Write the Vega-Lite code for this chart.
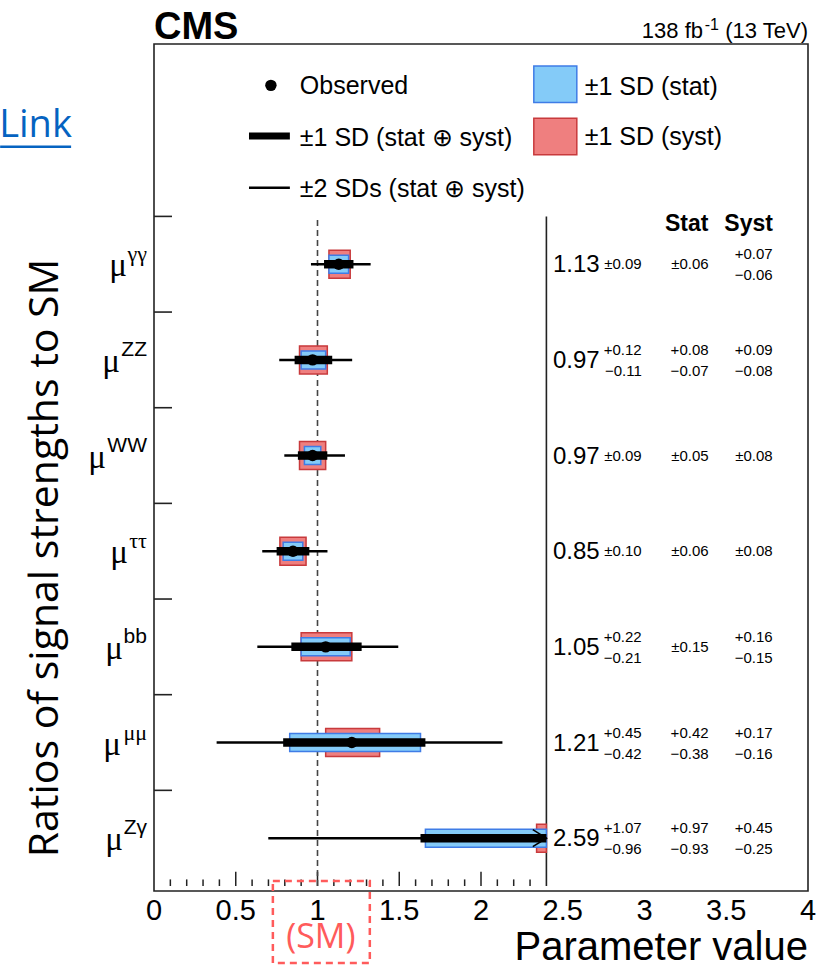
{
  "$schema": "https://vega.github.io/schema/vega-lite/v6.json",
  "width": 654,
  "height": 847,
  "autosize": {"type": "none"},
  "padding": {"left": 154, "top": 44, "right": 19, "bottom": 80},
  "background": "white",
  "config": {"view": {"stroke": "#222", "strokeWidth": 1.6}, "text": {"font": "Liberation Sans", "color": "#000"}},
  "datasets": {
    "ch": [
      {"ch": "gg", "c": 6.5, "sup": "γγ", "v": 1.13, "sd2_lo": 0.96, "sd2_hi": 1.325, "tot_lo": 1.04, "tot_hi": 1.22, "stat_lo": 1.07, "stat_hi": 1.19, "syst_lo": 1.07, "syst_hi": 1.2, "val": "1.13", "tot": "±0.09", "tot_up": "", "tot_dn": "", "stat": "±0.06", "stat_up": "", "stat_dn": "", "syst": "", "syst_up": "+0.07", "syst_dn": "−0.06"},
      {"ch": "zz", "c": 5.5, "sup": "ZZ", "v": 0.97, "sd2_lo": 0.766, "sd2_hi": 1.212, "tot_lo": 0.86, "tot_hi": 1.09, "stat_lo": 0.9, "stat_hi": 1.05, "syst_lo": 0.89, "syst_hi": 1.06, "val": "0.97", "tot": "", "tot_up": "+0.12", "tot_dn": "−0.11", "stat": "", "stat_up": "+0.08", "stat_dn": "−0.07", "syst": "", "syst_up": "+0.09", "syst_dn": "−0.08"},
      {"ch": "ww", "c": 4.5, "sup": "WW", "v": 0.97, "sd2_lo": 0.797, "sd2_hi": 1.168, "tot_lo": 0.88, "tot_hi": 1.06, "stat_lo": 0.92, "stat_hi": 1.02, "syst_lo": 0.89, "syst_hi": 1.05, "val": "0.97", "tot": "±0.09", "tot_up": "", "tot_dn": "", "stat": "±0.05", "stat_up": "", "stat_dn": "", "syst": "±0.08", "syst_up": "", "syst_dn": ""},
      {"ch": "tt", "c": 3.5, "sup": "ττ", "v": 0.85, "sd2_lo": 0.662, "sd2_hi": 1.061, "tot_lo": 0.75, "tot_hi": 0.95, "stat_lo": 0.79, "stat_hi": 0.91, "syst_lo": 0.77, "syst_hi": 0.93, "val": "0.85", "tot": "±0.10", "tot_up": "", "tot_dn": "", "stat": "±0.06", "stat_up": "", "stat_dn": "", "syst": "±0.08", "syst_up": "", "syst_dn": ""},
      {"ch": "bb", "c": 2.5, "sup": "bb", "v": 1.05, "sd2_lo": 0.632, "sd2_hi": 1.494, "tot_lo": 0.84, "tot_hi": 1.27, "stat_lo": 0.9, "stat_hi": 1.2, "syst_lo": 0.9, "syst_hi": 1.21, "val": "1.05", "tot": "", "tot_up": "+0.22", "tot_dn": "−0.21", "stat": "±0.15", "stat_up": "", "stat_dn": "", "syst": "", "syst_up": "+0.16", "syst_dn": "−0.15"},
      {"ch": "mm", "c": 1.5, "sup": "μμ", "v": 1.21, "sd2_lo": 0.383, "sd2_hi": 2.131, "tot_lo": 0.79, "tot_hi": 1.66, "stat_lo": 0.83, "stat_hi": 1.63, "syst_lo": 1.05, "syst_hi": 1.38, "val": "1.21", "tot": "", "tot_up": "+0.45", "tot_dn": "−0.42", "stat": "", "stat_up": "+0.42", "stat_dn": "−0.38", "syst": "", "syst_up": "+0.17", "syst_dn": "−0.16"},
      {"ch": "zg", "c": 0.5, "sup": "Zγ", "v": 2.59, "sd2_lo": 0.699, "sd2_hi": 2.4, "tot_lo": 1.63, "tot_hi": 2.4, "stat_lo": 1.66, "stat_hi": 2.4, "syst_lo": 2.34, "syst_hi": 2.4, "val": "2.59", "tot": "", "tot_up": "+1.07", "tot_dn": "−0.96", "stat": "", "stat_up": "+0.97", "stat_dn": "−0.93", "syst": "", "syst_up": "+0.45", "syst_dn": "−0.25"}
    ],
    "yt": [{"k": 1}, {"k": 2}, {"k": 3}, {"k": 4}, {"k": 5}, {"k": 6}, {"k": 7}],
    "major": [{"t": 0.5}, {"t": 1}, {"t": 1.5}, {"t": 2}],
    "minor": [{"t": 0.1}, {"t": 0.2}, {"t": 0.3}, {"t": 0.4}, {"t": 0.6}, {"t": 0.7}, {"t": 0.8}, {"t": 0.9}, {"t": 1.1}, {"t": 1.2}, {"t": 1.3}, {"t": 1.4}, {"t": 1.6}, {"t": 1.7}, {"t": 1.8}, {"t": 1.9}, {"t": 2.1}, {"t": 2.2}, {"t": 2.3}],
    "labels": [{"t": 0, "s": "0"}, {"t": 0.5, "s": "0.5"}, {"t": 1, "s": "1"}, {"t": 1.5, "s": "1.5"}, {"t": 2, "s": "2"}, {"t": 2.5, "s": "2.5"}, {"t": 3, "s": "3"}, {"t": 3.5, "s": "3.5"}, {"t": 4, "s": "4"}]
  },
  "layer": [
    {"data": {"name": "major"}, "mark": {"type": "rule", "color": "#222", "strokeWidth": 1.5},
     "encoding": {
       "x": {"field": "t", "type": "quantitative", "scale": {"domain": [0, 4], "nice": false, "zero": false}, "axis": null},
       "y": {"datum": 0, "type": "quantitative", "scale": {"domain": [0, 8.75], "nice": false, "zero": false}, "axis": null},
       "y2": {"datum": 0.148}}},
    {"data": {"name": "labels"}, "mark": {"type": "text", "align": "center", "baseline": "middle", "fontSize": 29, "dy": 25},
     "encoding": {"x": {"field": "t", "type": "quantitative", "axis": null}, "y": {"datum": 0, "type": "quantitative", "axis": null}, "text": {"field": "s"}}},
    {"data": {"values": [{}]}, "mark": {"type": "rule", "strokeDash": [6, 4], "color": "#444", "strokeWidth": 1.6},
     "encoding": {"x": {"datum": 1, "type": "quantitative", "axis": null}, "y": {"datum": 0, "type": "quantitative", "axis": null}, "y2": {"datum": 7}}},
    {"data": {"values": [{}]}, "mark": {"type": "rule", "color": "#222", "strokeWidth": 1.6},
     "encoding": {"x": {"datum": 2.4, "type": "quantitative", "axis": null}, "y": {"datum": 0, "type": "quantitative", "axis": null}, "y2": {"datum": 7}}},
    {"data": {"name": "yt"}, "mark": {"type": "rule", "color": "#222", "strokeWidth": 1.6},
     "encoding": {"x": {"datum": 0, "type": "quantitative", "axis": null}, "x2": {"datum": 0.11}, "y": {"field": "k", "type": "quantitative", "axis": null}}},
    {"data": {"name": "minor"}, "mark": {"type": "rule", "color": "#222", "strokeWidth": 1.5},
     "encoding": {"x": {"field": "t", "type": "quantitative", "axis": null}, "y": {"datum": 0, "type": "quantitative", "axis": null}, "y2": {"datum": 0.069}}},
    {"data": {"name": "ch"}, "mark": {"type": "bar", "orient": "horizontal", "size": 28, "fill": "#EF7F7F", "stroke": "#C83A3C", "strokeWidth": 1.5},
     "encoding": {"x": {"field": "syst_lo", "type": "quantitative", "axis": null}, "x2": {"field": "syst_hi"}, "y": {"field": "c", "type": "quantitative", "axis": null}}},
    {"data": {"name": "ch"}, "mark": {"type": "bar", "orient": "horizontal", "size": 18, "fill": "#84CBF8", "stroke": "#3F7CE6", "strokeWidth": 1.5},
     "encoding": {"x": {"field": "stat_lo", "type": "quantitative", "axis": null}, "x2": {"field": "stat_hi"}, "y": {"field": "c", "type": "quantitative", "axis": null}}},
    {"data": {"name": "ch"}, "mark": {"type": "rule", "color": "#000", "strokeWidth": 2.5},
     "encoding": {"x": {"field": "sd2_lo", "type": "quantitative", "axis": null}, "x2": {"field": "sd2_hi"}, "y": {"field": "c", "type": "quantitative", "axis": null}}},
    {"data": {"name": "ch"}, "mark": {"type": "rule", "color": "#000", "strokeWidth": 8.5, "strokeCap": "butt"},
     "encoding": {"x": {"field": "tot_lo", "type": "quantitative", "axis": null}, "x2": {"field": "tot_hi"}, "y": {"field": "c", "type": "quantitative", "axis": null}}},
    {"data": {"name": "ch"}, "transform": [{"filter": "datum.v > 2.4"}],
     "mark": {"type": "point", "shape": "M-1.6,-1L0,0L-1.6,1", "filled": false, "stroke": "#000", "strokeWidth": 1.6, "size": 289, "opacity": 1},
     "encoding": {"x": {"field": "tot_hi", "type": "quantitative", "axis": null}, "y": {"field": "c", "type": "quantitative", "axis": null}}},
    {"data": {"name": "ch"}, "transform": [{"filter": "datum.v <= 2.4"}],
     "mark": {"type": "point", "shape": "circle", "filled": true, "color": "#000", "size": 130, "opacity": 1},
     "encoding": {"x": {"field": "v", "type": "quantitative", "axis": null}, "y": {"field": "c", "type": "quantitative", "axis": null}}},

    {"data": {"name": "ch"}, "transform": [{"filter": "datum.ch == 'zz' || datum.ch == 'ww' || datum.ch == 'bb' || datum.ch == 'zg'"}],
     "mark": {"type": "text", "align": "right", "baseline": "middle", "fontSize": 21, "dy": -10},
     "encoding": {"x": {"datum": -0.043, "type": "quantitative", "axis": null}, "y": {"field": "c", "type": "quantitative", "axis": null}, "text": {"field": "sup"}}},
    {"data": {"name": "ch"}, "transform": [{"filter": "datum.ch == 'gg' || datum.ch == 'tt' || datum.ch == 'mm'"}],
     "mark": {"type": "text", "align": "right", "baseline": "middle", "font": "Liberation Serif", "fontSize": 22, "dy": -10},
     "encoding": {"x": {"datum": -0.043, "type": "quantitative", "axis": null}, "y": {"field": "c", "type": "quantitative", "axis": null}, "text": {"field": "sup"}}},
    {"data": {"name": "ch"}, "transform": [{"filter": "datum.ch == 'gg'"}], "mark": {"type": "text", "align": "right", "baseline": "middle", "font": "Liberation Serif", "fontSize": 33, "dy": 2, "dx": -20},
     "encoding": {"x": {"datum": -0.043, "type": "quantitative", "axis": null}, "y": {"field": "c", "type": "quantitative", "axis": null}, "text": {"value": "μ"}}},
    {"data": {"name": "ch"}, "transform": [{"filter": "datum.ch == 'zz'"}], "mark": {"type": "text", "align": "right", "baseline": "middle", "font": "Liberation Serif", "fontSize": 33, "dy": 2, "dx": -27},
     "encoding": {"x": {"datum": -0.043, "type": "quantitative", "axis": null}, "y": {"field": "c", "type": "quantitative", "axis": null}, "text": {"value": "μ"}}},
    {"data": {"name": "ch"}, "transform": [{"filter": "datum.ch == 'ww'"}], "mark": {"type": "text", "align": "right", "baseline": "middle", "font": "Liberation Serif", "fontSize": 33, "dy": 2, "dx": -41},
     "encoding": {"x": {"datum": -0.043, "type": "quantitative", "axis": null}, "y": {"field": "c", "type": "quantitative", "axis": null}, "text": {"value": "μ"}}},
    {"data": {"name": "ch"}, "transform": [{"filter": "datum.ch == 'tt'"}], "mark": {"type": "text", "align": "right", "baseline": "middle", "font": "Liberation Serif", "fontSize": 33, "dy": 2, "dx": -19},
     "encoding": {"x": {"datum": -0.043, "type": "quantitative", "axis": null}, "y": {"field": "c", "type": "quantitative", "axis": null}, "text": {"value": "μ"}}},
    {"data": {"name": "ch"}, "transform": [{"filter": "datum.ch == 'bb'"}], "mark": {"type": "text", "align": "right", "baseline": "middle", "font": "Liberation Serif", "fontSize": 33, "dy": 2, "dx": -24},
     "encoding": {"x": {"datum": -0.043, "type": "quantitative", "axis": null}, "y": {"field": "c", "type": "quantitative", "axis": null}, "text": {"value": "μ"}}},
    {"data": {"name": "ch"}, "transform": [{"filter": "datum.ch == 'mm'"}], "mark": {"type": "text", "align": "right", "baseline": "middle", "font": "Liberation Serif", "fontSize": 33, "dy": 2, "dx": -26},
     "encoding": {"x": {"datum": -0.043, "type": "quantitative", "axis": null}, "y": {"field": "c", "type": "quantitative", "axis": null}, "text": {"value": "μ"}}},
    {"data": {"name": "ch"}, "transform": [{"filter": "datum.ch == 'zg'"}], "mark": {"type": "text", "align": "right", "baseline": "middle", "font": "Liberation Serif", "fontSize": 33, "dy": 2, "dx": -24},
     "encoding": {"x": {"datum": -0.043, "type": "quantitative", "axis": null}, "y": {"field": "c", "type": "quantitative", "axis": null}, "text": {"value": "μ"}}},

    {"data": {"name": "ch"}, "mark": {"type": "text", "align": "right", "baseline": "middle", "fontSize": 24, "dy": 1},
     "encoding": {"x": {"datum": 2.726, "type": "quantitative", "axis": null}, "y": {"field": "c", "type": "quantitative", "axis": null}, "text": {"field": "val"}}},
    {"data": {"name": "ch"}, "mark": {"type": "text", "align": "right", "baseline": "middle", "fontSize": 15, "dy": 0},
     "encoding": {"x": {"datum": 2.983, "type": "quantitative", "axis": null}, "y": {"field": "c", "type": "quantitative", "axis": null}, "text": {"field": "tot"}}},
    {"data": {"name": "ch"}, "mark": {"type": "text", "align": "right", "baseline": "middle", "fontSize": 15, "dy": -10},
     "encoding": {"x": {"datum": 2.983, "type": "quantitative", "axis": null}, "y": {"field": "c", "type": "quantitative", "axis": null}, "text": {"field": "tot_up"}}},
    {"data": {"name": "ch"}, "mark": {"type": "text", "align": "right", "baseline": "middle", "fontSize": 15, "dy": 11},
     "encoding": {"x": {"datum": 2.983, "type": "quantitative", "axis": null}, "y": {"field": "c", "type": "quantitative", "axis": null}, "text": {"field": "tot_dn"}}},
    {"data": {"name": "ch"}, "mark": {"type": "text", "align": "right", "baseline": "middle", "fontSize": 15, "dy": 0},
     "encoding": {"x": {"datum": 3.392, "type": "quantitative", "axis": null}, "y": {"field": "c", "type": "quantitative", "axis": null}, "text": {"field": "stat"}}},
    {"data": {"name": "ch"}, "mark": {"type": "text", "align": "right", "baseline": "middle", "fontSize": 15, "dy": -10},
     "encoding": {"x": {"datum": 3.392, "type": "quantitative", "axis": null}, "y": {"field": "c", "type": "quantitative", "axis": null}, "text": {"field": "stat_up"}}},
    {"data": {"name": "ch"}, "mark": {"type": "text", "align": "right", "baseline": "middle", "fontSize": 15, "dy": 11},
     "encoding": {"x": {"datum": 3.392, "type": "quantitative", "axis": null}, "y": {"field": "c", "type": "quantitative", "axis": null}, "text": {"field": "stat_dn"}}},
    {"data": {"name": "ch"}, "mark": {"type": "text", "align": "right", "baseline": "middle", "fontSize": 15, "dy": 0},
     "encoding": {"x": {"datum": 3.784, "type": "quantitative", "axis": null}, "y": {"field": "c", "type": "quantitative", "axis": null}, "text": {"field": "syst"}}},
    {"data": {"name": "ch"}, "mark": {"type": "text", "align": "right", "baseline": "middle", "fontSize": 15, "dy": -10},
     "encoding": {"x": {"datum": 3.784, "type": "quantitative", "axis": null}, "y": {"field": "c", "type": "quantitative", "axis": null}, "text": {"field": "syst_up"}}},
    {"data": {"name": "ch"}, "mark": {"type": "text", "align": "right", "baseline": "middle", "fontSize": 15, "dy": 11},
     "encoding": {"x": {"datum": 3.784, "type": "quantitative", "axis": null}, "y": {"field": "c", "type": "quantitative", "axis": null}, "text": {"field": "syst_dn"}}},

    {"data": {"values": [{}]}, "mark": {"type": "text", "align": "center", "baseline": "middle", "fontSize": 23, "fontWeight": "bold", "dy": -2},
     "encoding": {"x": {"datum": 3.258, "type": "quantitative", "axis": null}, "y": {"datum": 6.9, "type": "quantitative", "axis": null}, "text": {"value": "Stat"}}},
    {"data": {"values": [{}]}, "mark": {"type": "text", "align": "center", "baseline": "middle", "fontSize": 23, "fontWeight": "bold", "dy": -2},
     "encoding": {"x": {"datum": 3.637, "type": "quantitative", "axis": null}, "y": {"datum": 6.9, "type": "quantitative", "axis": null}, "text": {"value": "Syst"}}},

    {"data": {"values": [{}]}, "mark": {"type": "point", "shape": "circle", "filled": true, "color": "#000", "size": 130, "opacity": 1},
     "encoding": {"x": {"datum": 0.715, "type": "quantitative", "axis": null}, "y": {"datum": 8.37, "type": "quantitative", "axis": null}}},
    {"data": {"values": [{}]}, "mark": {"type": "rule", "color": "#000", "strokeWidth": 7, "strokeCap": "butt"},
     "encoding": {"x": {"datum": 0.581, "type": "quantitative", "axis": null}, "x2": {"datum": 0.831}, "y": {"datum": 7.84, "type": "quantitative", "axis": null}}},
    {"data": {"values": [{}]}, "mark": {"type": "rule", "color": "#000", "strokeWidth": 2.5},
     "encoding": {"x": {"datum": 0.581, "type": "quantitative", "axis": null}, "x2": {"datum": 0.831}, "y": {"datum": 7.3, "type": "quantitative", "axis": null}}},
    {"data": {"values": [{}]}, "mark": {"type": "rect", "fill": "#84CBF8", "stroke": "#3F7CE6", "strokeWidth": 1.5},
     "encoding": {"x": {"datum": 2.323, "type": "quantitative", "axis": null}, "x2": {"datum": 2.586}, "y": {"datum": 8.573, "type": "quantitative", "axis": null}, "y2": {"datum": 8.191}}},
    {"data": {"values": [{}]}, "mark": {"type": "rect", "fill": "#EF7F7F", "stroke": "#C83A3C", "strokeWidth": 1.5},
     "encoding": {"x": {"datum": 2.323, "type": "quantitative", "axis": null}, "x2": {"datum": 2.586}, "y": {"datum": 8.026, "type": "quantitative", "axis": null}, "y2": {"datum": 7.644}}},
    {"data": {"values": [{}]}, "mark": {"type": "text", "align": "left", "baseline": "middle", "fontSize": 25, "dy": -2},
     "encoding": {"x": {"datum": 0.892, "type": "quantitative", "axis": null}, "y": {"datum": 8.34, "type": "quantitative", "axis": null}, "text": {"value": "Observed"}}},
    {"data": {"values": [{}]}, "mark": {"type": "text", "align": "left", "baseline": "middle", "fontSize": 25, "dy": -2},
     "encoding": {"x": {"datum": 0.892, "type": "quantitative", "axis": null}, "y": {"datum": 7.8, "type": "quantitative", "axis": null}, "text": {"value": "±1 SD (stat ⊕ syst)"}}},
    {"data": {"values": [{}]}, "mark": {"type": "text", "align": "left", "baseline": "middle", "fontSize": 25, "dy": -2},
     "encoding": {"x": {"datum": 0.892, "type": "quantitative", "axis": null}, "y": {"datum": 7.27, "type": "quantitative", "axis": null}, "text": {"value": "±2 SDs (stat ⊕ syst)"}}},
    {"data": {"values": [{}]}, "mark": {"type": "text", "align": "left", "baseline": "middle", "fontSize": 25, "dy": -2},
     "encoding": {"x": {"datum": 2.634, "type": "quantitative", "axis": null}, "y": {"datum": 8.33, "type": "quantitative", "axis": null}, "text": {"value": "±1 SD (stat)"}}},
    {"data": {"values": [{}]}, "mark": {"type": "text", "align": "left", "baseline": "middle", "fontSize": 25, "dy": -2},
     "encoding": {"x": {"datum": 2.634, "type": "quantitative", "axis": null}, "y": {"datum": 7.81, "type": "quantitative", "axis": null}, "text": {"value": "±1 SD (syst)"}}},

    {"data": {"values": [{}]}, "mark": {"type": "text", "align": "left", "baseline": "alphabetic", "fontSize": 38, "fontWeight": "bold"},
     "encoding": {"x": {"datum": 0, "type": "quantitative", "axis": null}, "y": {"datum": 8.85, "type": "quantitative", "axis": null}, "text": {"value": "CMS"}}},
    {"data": {"values": [{}]}, "mark": {"type": "text", "align": "right", "baseline": "alphabetic", "fontSize": 22},
     "encoding": {"x": {"datum": 4, "type": "quantitative", "axis": null}, "y": {"datum": 8.86, "type": "quantitative", "axis": null}, "text": {"value": "(13 TeV)"}}},
    {"data": {"values": [{}]}, "mark": {"type": "text", "align": "right", "baseline": "alphabetic", "fontSize": 16, "dx": -89},
     "encoding": {"x": {"datum": 4, "type": "quantitative", "axis": null}, "y": {"datum": 8.95, "type": "quantitative", "axis": null}, "text": {"value": "-1"}}},
    {"data": {"values": [{}]}, "mark": {"type": "text", "align": "right", "baseline": "alphabetic", "fontSize": 22, "dx": -105},
     "encoding": {"x": {"datum": 4, "type": "quantitative", "axis": null}, "y": {"datum": 8.86, "type": "quantitative", "axis": null}, "text": {"value": "138 fb"}}},
    {"data": {"values": [{}]}, "mark": {"type": "text", "align": "left", "baseline": "alphabetic", "font": "Open Sans", "fontSize": 38, "dx": -1, "color": "#0563C1"},
     "encoding": {"x": {"datum": -0.941, "type": "quantitative", "axis": null}, "y": {"datum": 7.831, "type": "quantitative", "axis": null}, "text": {"value": "Link"}}},
    {"data": {"values": [{}]}, "mark": {"type": "rule", "color": "#0563C1", "strokeWidth": 2.5},
     "encoding": {"x": {"datum": -0.941, "type": "quantitative", "axis": null}, "x2": {"datum": -0.507}, "y": {"datum": 7.727, "type": "quantitative", "axis": null}}},
    {"data": {"values": [{}]}, "mark": {"type": "text", "align": "center", "baseline": "middle", "font": "Open Sans", "fontSize": 41, "angle": 270},
     "encoding": {"x": {"datum": -0.66, "type": "quantitative", "axis": null}, "y": {"datum": 3.43, "type": "quantitative", "axis": null}, "text": {"value": "Ratios of signal strengths to SM"}}},
    {"data": {"values": [{}]}, "mark": {"type": "rect", "fill": null, "fillOpacity": 0, "stroke": "#FF5B5B", "strokeWidth": 2.5, "strokeDash": [7, 5]},
     "encoding": {"x": {"datum": 0.727, "type": "quantitative", "axis": null}, "x2": {"datum": 1.32}, "y": {"datum": 0.052, "type": "quantitative", "axis": null}, "y2": {"datum": -0.806}}},
    {"data": {"values": [{}]}, "mark": {"type": "text", "align": "center", "baseline": "middle", "font": "Open Sans", "fontSize": 34, "color": "#FF5B5B"},
     "encoding": {"x": {"datum": 1.02, "type": "quantitative", "axis": null}, "y": {"datum": -0.548, "type": "quantitative", "axis": null}, "text": {"value": "(SM)"}}},
    {"data": {"values": [{}]}, "mark": {"type": "text", "align": "right", "baseline": "alphabetic", "fontSize": 40},
     "encoding": {"x": {"datum": 4, "type": "quantitative", "axis": null}, "y": {"datum": -0.775, "type": "quantitative", "axis": null}, "text": {"value": "Parameter value"}}}
  ]
}
